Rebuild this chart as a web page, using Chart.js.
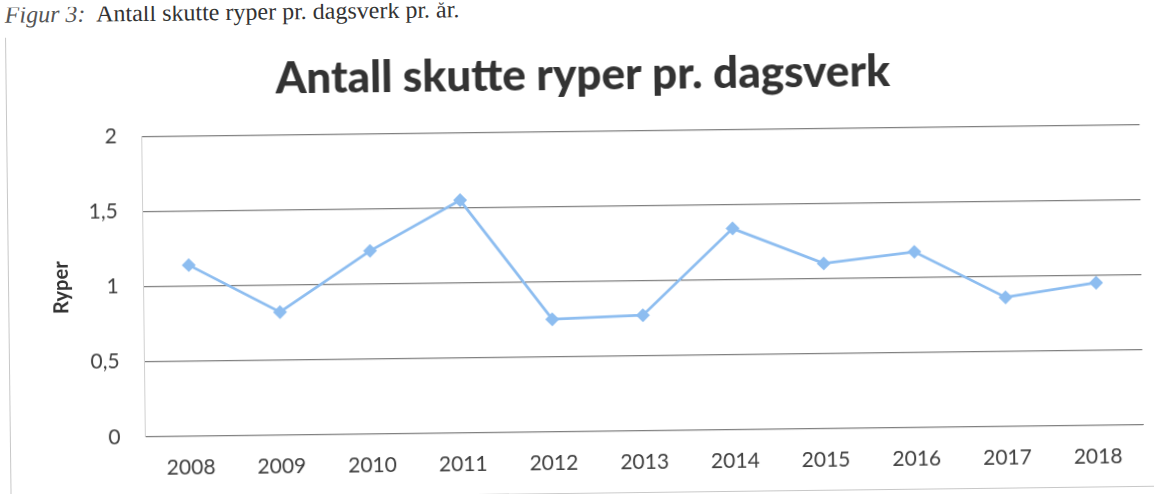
<!DOCTYPE html>
<html>
<head>
<meta charset="utf-8">
<script src="https://cdn.jsdelivr.net/npm/chart.js@4"></script>
<style>
  html, body { margin: 0; padding: 0; background: #fff; }
  #page {
    position: relative; width: 1154px; height: 494px; overflow: hidden;
    transform: rotate(-0.69deg); transform-origin: 642px 280px;
  }
  #caption {
    position: absolute; left: 8px; top: -6px;
    font-family: "Liberation Serif", serif; font-size: 24px; color: #333;
    white-space: nowrap;
  }
  #caption i { color: #555; }
  #frame {
    position: absolute; left: 8px; top: 30px; width: 1160px; height: 462px;
    border-left: 1px solid #c8c8c8; border-bottom: 1px solid #c8c8c8;
  }
  canvas { position: absolute; left: 0; top: 0; }
</style>
</head>
<body>
<div id="page">
  <div id="caption"><i>Figur 3:</i>&nbsp; Antall skutte ryper pr. dagsverk pr. år.</div>
  <div id="frame"></div>
  <canvas id="chart" width="1154" height="494"></canvas>
</div>
<script>
const years = ["2008", "2009", "2010", "2011", "2012", "2013", "2014", "2015", "2016", "2017", "2018"];
const ryper = [1.14, 0.82, 1.22, 1.55, 0.75, 0.77, 1.34, 1.1, 1.17, 0.86, 0.95];
const yTicks = [0, 0.5, 1, 1.5, 2];

const lineColor = "#8dbdf0";
const ctx = document.querySelector("#chart");

const myChart = new Chart(ctx, {
  type: "line",
  data: {
    labels: years,
    datasets: [
      {
        label: "Ryper",
        data: ryper,
        borderColor: lineColor,
        backgroundColor: lineColor,
        borderWidth: 2.8,
        pointStyle: "rectRot",
        pointRadius: 5,
        tension: 0,
      },
    ],
  },
  options: {
    responsive: false,
    devicePixelRatio: 1,
    animation: false,
    layout: {
      padding: { top: 48, bottom: 0, left: 29, right: 12.6 },
    },
    plugins: {
      legend: { display: false },
      tooltip: { enabled: false },
      title: {
        display: true,
        text: "Antall skutte ryper pr. dagsverk",
        color: "#333",
        font: { family: "Lato", size: 44, weight: 900 },
        padding: { top: 0, bottom: 29.7 },
      },
    },
    scales: {
      x: {
        offset: true,
        grid: { display: false, drawTicks: false },
        border: { display: true, color: "#808080" },
        ticks: {
          color: "#404040",
          padding: 19,
          font: { family: "Lato", size: 21 },
        },
      },
      y: {
        min: 0,
        max: 2,
        afterBuildTicks: (scale) => {
          scale.ticks = yTicks.map((v) => ({ value: v }));
        },
        afterFit: (scale) => {
          scale.width = 114.6;
        },
        grid: { color: "#808080", lineWidth: 1.2, drawTicks: false },
        border: { display: true, color: "#d0d0d0" },
        ticks: {
          color: "#404040",
          padding: 25,
          font: { family: "Lato", size: 21 },
          callback: (v) => String(v).replace(".", ","),
        },
        title: {
          display: true,
          text: "Ryper",
          color: "#333",
          font: { family: "Lato", size: 20, weight: "bold" },
          padding: { top: 21, bottom: 0 },
        },
      },
    },
  },
});
</script>
</body>
</html>
